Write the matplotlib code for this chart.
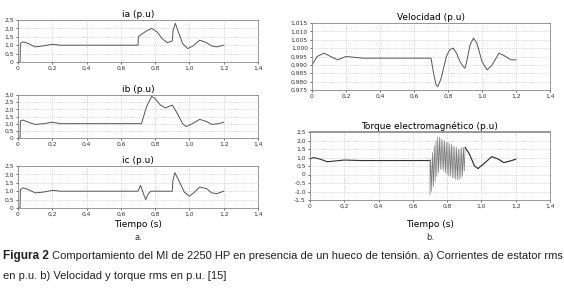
import matplotlib
matplotlib.use("Agg")
import matplotlib.pyplot as plt
from matplotlib.ticker import FuncFormatter

# ---------------- data ----------------
t_ia = [0, 0.012, 0.014, 0.03, 0.06, 0.1, 0.14, 0.2, 0.25, 0.3, 0.7, 0.702, 0.72, 0.75,
        0.78, 0.81, 0.84, 0.87, 0.9, 0.905, 0.918, 0.935, 0.96, 0.99, 1.02, 1.06, 1.1,
        1.13, 1.16, 1.2]
ia = [0, 0, 1.1, 1.2, 1.1, 0.9, 0.95, 1.05, 1.0, 1.0, 1.0, 1.5, 1.65, 1.85,
      2.0, 1.8, 1.4, 1.15, 1.25, 1.9, 2.3, 1.8, 1.1, 0.8, 0.95, 1.3, 1.15,
      0.95, 0.9, 1.0]

t_ib = [0, 0.012, 0.014, 0.03, 0.06, 0.1, 0.15, 0.2, 0.25, 0.3, 0.72, 0.75, 0.78, 0.8,
        0.83, 0.86, 0.9, 0.93, 0.96, 0.98, 1.01, 1.06, 1.1, 1.13, 1.17, 1.2]
ib = [0, 0, 1.2, 1.25, 1.1, 0.95, 1.0, 1.1, 1.0, 1.0, 1.0, 2.2, 2.9, 2.75,
      2.3, 2.1, 2.3, 1.7, 1.0, 0.8, 0.95, 1.3, 1.15, 0.95, 1.0, 1.1]

t_ic = [0, 0.012, 0.014, 0.03, 0.06, 0.1, 0.15, 0.2, 0.25, 0.3, 0.7, 0.705, 0.715, 0.73,
        0.745, 0.76, 0.775, 0.8, 0.9, 0.903, 0.915, 0.94, 0.97, 1.0, 1.03, 1.06, 1.1,
        1.13, 1.16, 1.2]
ic = [0, 0, 1.1, 1.2, 1.1, 0.9, 0.95, 1.05, 1.0, 1.0, 1.0, 1.1, 1.35, 0.9,
      0.5, 0.85, 1.0, 1.0, 1.0, 1.6, 2.1, 1.6, 0.95, 0.7, 0.95, 1.25, 1.15,
      0.9, 0.85, 1.0]

t_vel = [0, 0.03, 0.07, 0.11, 0.15, 0.2, 0.25, 0.3, 0.7, 0.715, 0.73, 0.74, 0.76, 0.79,
         0.81, 0.83, 0.85, 0.87, 0.89, 0.9, 0.91, 0.93, 0.95, 0.97, 1.0, 1.03, 1.06,
         1.1, 1.14, 1.17, 1.2]
vel = [0.990, 0.995, 0.997, 0.995, 0.993, 0.995, 0.9945, 0.994, 0.994, 0.985, 0.978, 0.977, 0.982, 0.995,
       0.999, 1.000, 0.997, 0.992, 0.989, 0.988, 0.992, 1.002, 1.006, 1.003, 0.992, 0.987, 0.990,
       0.997, 0.995, 0.993, 0.993]

# torque: smooth parts before/after the sag
t_tq_pre = [0, 0.02, 0.06, 0.1, 0.15, 0.2, 0.3, 0.7]
tq_pre = [0.9, 1.0, 0.9, 0.75, 0.8, 0.85, 0.82, 0.82]
# oscillating part during the sag: alternating troughs / peaks
t_tq_osc = [0.700, 0.705, 0.710, 0.715, 0.720, 0.725, 0.730, 0.735, 0.740, 0.745,
            0.750, 0.755, 0.760, 0.765, 0.770, 0.775, 0.780, 0.785, 0.790, 0.795,
            0.800, 0.805, 0.810, 0.815, 0.820, 0.825, 0.830, 0.835, 0.840, 0.845,
            0.850, 0.855, 0.860, 0.865, 0.870, 0.875, 0.880, 0.885, 0.890, 0.895]
tq_osc = [-1.2, 0.9, -1.0, 1.3, -0.7, 1.7, -0.4, 2.0, -0.1, 2.2,
          0.1, 2.2, 0.3, 2.1, 0.3, 2.0, 0.2, 2.0, 0.1, 1.9,
          0.0, 1.9, -0.1, 1.8, -0.1, 1.8, -0.2, 1.7, -0.2, 1.6,
          -0.3, 1.6, -0.3, 1.5, -0.3, 1.5, -0.2, 1.6, -0.1, 1.6]
t_tq_post = [0.9, 0.905, 0.93, 0.96, 0.98, 1.01, 1.06, 1.1, 1.13, 1.17, 1.2]
tq_post = [0.2, 1.6, 1.2, 0.5, 0.35, 0.6, 1.05, 0.9, 0.7, 0.8, 0.9]

xticks = [0, 0.2, 0.4, 0.6, 0.8, 1.0, 1.2, 1.4]

W, H = 564, 301
fig = plt.figure(figsize=(W / 100, H / 100), dpi=100)
plt.rcParams['font.family'] = ['DejaVu Sans']


def make_ax(l, r, t, b):
    return fig.add_axes([l / W, 1 - b / H, (r - l) / W, (b - t) / H])


def style(ax, title, yticks, yfmt, ylim):
    ax.set_xlim(0, 1.4)
    ax.set_ylim(*ylim)
    ax.set_xticks(xticks)
    ax.set_yticks(yticks)
    ax.xaxis.set_major_formatter(FuncFormatter(lambda v, p: '0' if v == 0 else ('%.1f' % v).replace('.', ',')))
    ax.yaxis.set_major_formatter(FuncFormatter(lambda v, p: '0' if v == 0 else (yfmt % v).replace('.', ',')))
    ax.tick_params(labelsize=4.3, length=1.5, width=0.5, pad=1.5, colors='#333333')
    ax.grid(True, linestyle=(0, (1, 2)), color='#b0b0b0', linewidth=0.5)
    for s in ax.spines.values():
        s.set_color('#888888')
        s.set_linewidth(0.6)
    ax.set_title(title, fontsize=6.5, pad=2)


line_kw = dict(color='#555555', linewidth=0.7)

ax1 = make_ax(18, 258, 20, 62)
ax1.plot(t_ia, ia, **line_kw)
style(ax1, 'ia (p.u)', [0, 0.5, 1.0, 1.5, 2.0, 2.5], '%.1f', (0, 2.5))

ax2 = make_ax(18, 258, 95, 138)
ax2.plot(t_ib, ib, **line_kw)
style(ax2, 'ib (p.u)', [0, 0.5, 1.0, 1.5, 2.0, 2.5, 3.0], '%.1f', (0, 3.0))

ax3 = make_ax(18, 258, 166, 208)
ax3.plot(t_ic, ic, **line_kw)
style(ax3, 'ic (p.u)', [0, 0.5, 1.0, 1.5, 2.0, 2.5], '%.1f', (0, 2.5))
ax3.set_xlabel('Tiempo (s)', fontsize=6.5, labelpad=2)

ax4 = make_ax(312, 550, 23, 90)
ax4.plot(t_vel, vel, **line_kw)
style(ax4, 'Velocidad (p.u)', [0.975, 0.980, 0.985, 0.990, 0.995, 1.000, 1.005, 1.010, 1.015],
      '%.3f', (0.975, 1.015))

ax5 = make_ax(310, 550, 132, 200)
ax5.plot(t_tq_pre, tq_pre, color='#333333', linewidth=0.8)
ax5.plot([t_tq_pre[-1]] + t_tq_osc + t_tq_post, [tq_pre[-1]] + tq_osc + tq_post,
         color='#777777', linewidth=0.45)
ax5.plot(t_tq_post[1:], tq_post[1:], color='#333333', linewidth=0.8)
style(ax5, 'Torque electromagnético (p.u)', [-1.5, -1.0, -0.5, 0, 0.5, 1.0, 1.5, 2.0, 2.5],
      '%.1f', (-1.5, 2.5))
ax5.spines['top'].set_linewidth(1.2)
ax5.set_xlabel('Tiempo (s)', fontsize=6.5, labelpad=8)

fig.text(138 / W, 1 - 238 / H, 'a.', fontsize=6, ha='center', va='center', color='#333333')
fig.text(430 / W, 1 - 238 / H, 'b.', fontsize=6, ha='center', va='center', color='#333333')

narrow = ['Liberation Sans Narrow', 'Liberation Sans', 'DejaVu Sans']
fig.text(3 / W, 1 - 256 / H, 'Figura 2', fontsize=8.5, fontweight='bold',
         family=['Liberation Sans', 'DejaVu Sans'], va='center', color='#222222')
fig.text(52 / W, 1 - 256 / H,
         'Comportamiento del MI de 2250 HP en presencia de un hueco de tensión. a) Corrientes de estator rms',
         fontsize=8, family=narrow, va='center', color='#222222')
fig.text(3 / W, 1 - 276 / H, 'en p.u. b) Velocidad y torque rms en p.u. [15]',
         fontsize=8, family=narrow, va='center', color='#222222')

fig.savefig('out.png', dpi=100)
